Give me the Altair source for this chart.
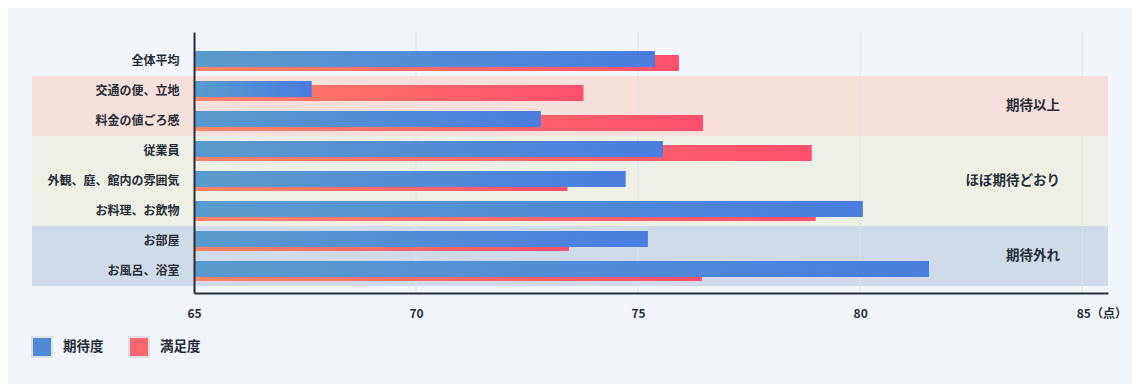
import altair as alt
import pandas as pd

# ---- data -------------------------------------------------------------
categories = ["全体平均", "交通の便、立地", "料金の値ごろ感", "従業員",
              "外観、庭、館内の雰囲気", "お料理、お飲物", "お部屋", "お風呂、浴室"]
expectation = [75.38, 67.65, 72.81, 75.56, 74.72, 80.06, 75.22, 81.55]
satisfaction = [75.92, 73.77, 76.46, 78.91, 73.41, 79.00, 73.44, 76.44]
row_groups = ["", "期待以上", "期待以上", "ほぼ期待どおり", "ほぼ期待どおり",
              "ほぼ期待どおり", "期待外れ", "期待外れ"]
group_names = ["期待以上", "ほぼ期待どおり", "期待外れ"]
series_names = ["期待度", "満足度"]
x_ticks = [65, 70, 75, 80, 85]
x_max = 85.58

# ---- styles -----------------------------------------------------------
FONT = "Noto Sans CJK JP"
TEXT = "#272e37"
AXIS = "#252d36"
GRID = "#dfe4ea"
BG = "#f2f6fa"
band_colors = ["#f7dfdb", "#eeefe5", "#cfdbe8"]
legend_colors = ["#5189d6", "#ff6770"]

blue_grad = alt.LinearGradient(
    gradient="linear",
    stops=[alt.GradientStop(color="#5a9bcc", offset=0),
           alt.GradientStop(color="#4a7ddf", offset=1)],
    x1=0, x2=1, y1=0, y2=0)
red_grad = alt.LinearGradient(
    gradient="linear",
    stops=[alt.GradientStop(color="#ff8466", offset=0),
           alt.GradientStop(color="#ff4f6c", offset=1)],
    x1=0, x2=1, y1=0, y2=0)

PLOT_W, PLOT_H = 914, 261

# ---- tables -----------------------------------------------------------
bars = pd.DataFrame({"row": categories, "exp": expectation, "sat": satisfaction})
bands = pd.DataFrame({"row": categories, "group": row_groups})
bands = bands[bands["group"] != ""]
grid = pd.DataFrame({"tick": x_ticks[1:]})

lab_even, lab_odd = [], []
for g in group_names:
    rows = [c for c, rg in zip(categories, row_groups) if rg == g]
    n = len(rows)
    if n % 2 == 0:
        lab_even.append({"row": rows[n // 2], "group": g})
    else:
        lab_odd.append({"row": rows[n // 2], "group": g})
lab_even = pd.DataFrame(lab_even)
lab_odd = pd.DataFrame(lab_odd)
legend_df = pd.DataFrame({"series": series_names})

# ---- scales / axes ----------------------------------------------------
y_scale = alt.Scale(domain=categories, paddingInner=0, paddingOuter=0.35, align=0.667)
x_scale = alt.Scale(domain=[x_ticks[0], x_max], nice=False, zero=False)

y_axis = alt.Axis(title=None, domain=True, domainColor=AXIS, domainWidth=2,
                  ticks=False, labelPadding=15, labelFont=FONT, labelFontSize=12,
                  labelFontWeight="bold", labelColor=TEXT, zindex=1)
x_axis = alt.Axis(title=None, values=x_ticks, grid=False, domain=True,
                  domainColor=AXIS, domainWidth=2, ticks=False, labelPadding=15,
                  labelFont=FONT, labelFontSize=12, labelFontWeight="bold",
                  labelColor=TEXT, zindex=1,
                  labelExpr="datum.value == 85 ? '85（点）' : datum.label",
                  labelAlign={"condition": {"test": "datum.value == 85", "value": "left"},
                              "value": "center"},
                  labelOffset={"condition": {"test": "datum.value == 85", "value": -6},
                               "value": 0})

def Y(**kw):
    return alt.Y("row:N", sort=categories, scale=y_scale, axis=y_axis, **kw)

# ---- layers -----------------------------------------------------------
band_layer = alt.Chart(bands).mark_rect().encode(
    y=Y(),
    x=alt.value(-162),
    x2=alt.value(PLOT_W),
    fill=alt.Fill("group:N", scale=alt.Scale(domain=group_names, range=band_colors),
                  legend=None),
)

grid_layer = alt.Chart(grid).mark_rule(color=GRID, strokeWidth=1).encode(
    x=alt.X("tick:Q", scale=x_scale, axis=x_axis),
)

red_layer = alt.Chart(bars).mark_bar(fill=red_grad, size=16, yOffset=2).encode(
    y=Y(),
    x=alt.X("sat:Q", scale=x_scale, axis=x_axis),
    x2=alt.datum(x_ticks[0]),
)

blue_layer = alt.Chart(bars).mark_bar(fill=blue_grad, size=16, yOffset=-2).encode(
    y=Y(),
    x=alt.X("exp:Q", scale=x_scale, axis=x_axis),
    x2=alt.datum(x_ticks[0]),
)

text_kw = dict(align="right", baseline="middle", font=FONT, fontSize=13.5,
               fontWeight="bold", color=TEXT)
lab_even_layer = alt.Chart(lab_even).mark_text(**text_kw).encode(
    y=Y(bandPosition=0),
    x=alt.value(866),
    text="group:N",
)
lab_odd_layer = alt.Chart(lab_odd).mark_text(**text_kw).encode(
    y=Y(),
    x=alt.value(866),
    text="group:N",
)

legend_layer = alt.Chart(legend_df).mark_square(opacity=0).encode(
    color=alt.Color("series:N",
                    scale=alt.Scale(domain=series_names, range=legend_colors),
                    legend=alt.Legend(title=None, orient="none", legendX=-163,
                                      legendY=304, direction="horizontal",
                                      symbolType="square", symbolSize=400,
                                      symbolOpacity=1, symbolStrokeWidth=2,
                                      symbolStrokeColor="#dbe1e9",
                                      labelFont=FONT, labelFontSize=13.5,
                                      labelFontWeight="bold", labelColor=TEXT,
                                      labelOffset=10, columnPadding=21)),
)

chart = alt.layer(
    band_layer, grid_layer, red_layer, blue_layer,
    lab_even_layer, lab_odd_layer, legend_layer,
).resolve_scale(
    color="independent"
).properties(
    width=PLOT_W, height=PLOT_H, background=BG,
    autosize=alt.AutoSizeParams(type="none"),
    padding={"left": 186, "top": 24, "right": 24, "bottom": 91},
).configure_view(strokeWidth=0)

chart.save("out.html", embed_options={"renderer": "svg", "actions": False})
